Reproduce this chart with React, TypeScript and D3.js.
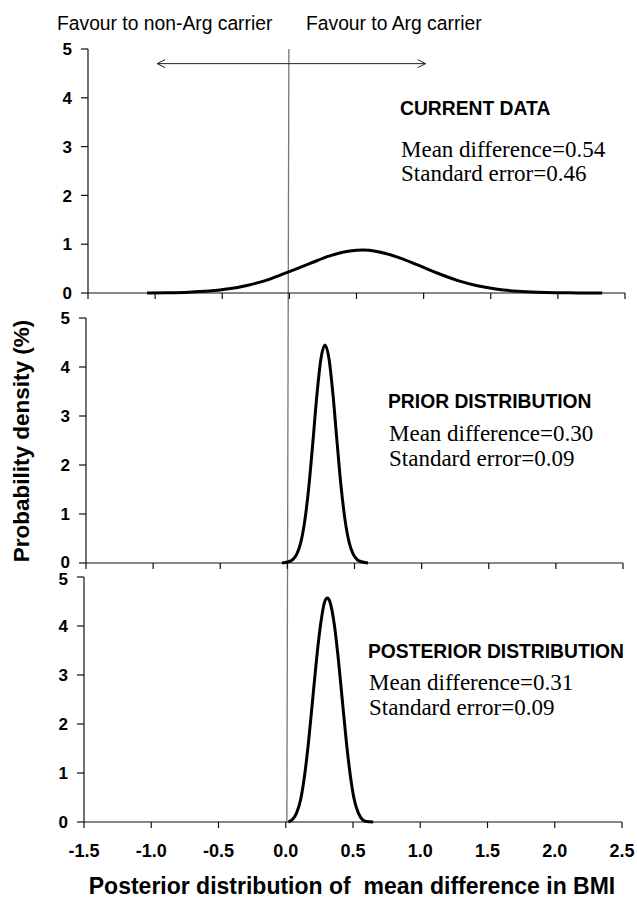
import React from 'react';
import * as d3 from 'd3';

// values
const currentX = [-1.06, -0.9, -0.75, -0.6, -0.45, -0.3, -0.15, 0, 0.15, 0.3, 0.45, 0.55, 0.65, 0.8, 0.95, 1.1, 1.25, 1.4, 1.55, 1.7, 1.85, 2.0, 2.15, 2.33];
const currentY = [0.002, 0.006, 0.017, 0.04, 0.085, 0.165, 0.28, 0.44, 0.6, 0.76, 0.86, 0.88, 0.85, 0.74, 0.58, 0.41, 0.26, 0.15, 0.078, 0.036, 0.015, 0.006, 0.002, 0.0];

const priorX = [-0.04, 0.0, 0.04, 0.07, 0.1, 0.13, 0.16, 0.19, 0.22, 0.25, 0.28, 0.31, 0.34, 0.37, 0.4, 0.43, 0.46, 0.49, 0.52, 0.56, 0.6];
const priorY = [0, 0.02, 0.07, 0.18, 0.42, 0.87, 1.56, 2.47, 3.43, 4.17, 4.45, 4.17, 3.43, 2.47, 1.56, 0.87, 0.42, 0.18, 0.07, 0.02, 0];

const postX = [0.02, 0.05, 0.08, 0.11, 0.14, 0.17, 0.2, 0.23, 0.26, 0.29, 0.31, 0.33, 0.36, 0.39, 0.42, 0.45, 0.48, 0.51, 0.54, 0.57, 0.6, 0.65];
const postY = [0.0, 0.05, 0.18, 0.45, 0.95, 1.65, 2.5, 3.35, 4.05, 4.5, 4.57, 4.48, 4.05, 3.35, 2.5, 1.65, 0.95, 0.45, 0.18, 0.05, 0.01, 0.0];

const xTicks = [-1.5, -1.0, -0.5, 0.0, 0.5, 1.0, 1.5, 2.0, 2.5];
const yTicks = [0, 1, 2, 3, 4, 5];

const panelTitles = ['CURRENT DATA', 'PRIOR DISTRIBUTION', 'POSTERIOR DISTRIBUTION'];
const meanLabels = ['Mean difference=0.54', 'Mean difference=0.30', 'Mean difference=0.31'];
const seLabels = ['Standard error=0.46', 'Standard error=0.09', 'Standard error=0.09'];

const W = 637;
const H = 901;
const sans = '"Liberation Sans", Arial, sans-serif';
const serif = '"Liberation Serif", "Times New Roman", serif';

// panel frames (pixel layout)
const frames = [
  { top: 49, bottom: 293, left: 88, right: 625, tx: 400, ty: 115, my: 157, sy: 181 },
  { top: 318, bottom: 563, left: 86, right: 623, tx: 388, ty: 408, my: 441, sy: 466 },
  { top: 577, bottom: 822, left: 84, right: 622, tx: 368, ty: 658, my: 690, sy: 715 },
];
const series = [
  { xs: currentX, ys: currentY },
  { xs: priorX, ys: priorY },
  { xs: postX, ys: postY },
];

const Panel = ({ i }: { i: number }) => {
  const f = frames[i];
  const x = d3.scaleLinear().domain([-1.5, 2.5]).range([f.left, f.right]);
  const y = d3.scaleLinear().domain([0, 5]).range([f.bottom, f.top]);
  const s = series[i];
  const pts: [number, number][] = s.xs.map((v, k) => [v, s.ys[k]]);
  const line = d3
    .line<[number, number]>()
    .x((d) => x(d[0]))
    .y((d) => y(d[1]))
    .curve(d3.curveMonotoneX);
  const last = i === 2;
  // nudge the labels where two panels meet, as in the original
  const nudge = (t: number) => {
    if (t === 0 && i === 1) return -1.5;
    if (t === 5 && i === 2) return 2;
    return 0;
  };
  return (
    <g>
      {/* y axis */}
      <line x1={f.left} x2={f.left} y1={f.top} y2={f.bottom} stroke="#111" strokeWidth={1.2} />
      {yTicks.map((t) => (
        <g key={t}>
          <line x1={f.left - 7} x2={f.left} y1={y(t)} y2={y(t)} stroke="#111" strokeWidth={1.2} />
          <text x={f.left - 16} y={y(t) + nudge(t)} dy="0.36em" textAnchor="end" fontFamily={sans} fontWeight="bold" fontSize={17}>
            {t}
          </text>
        </g>
      ))}
      {/* x axis */}
      <line x1={f.left} x2={f.right} y1={f.bottom} y2={f.bottom} stroke="#111" strokeWidth={1.2} />
      {xTicks.map((t) => (
        <g key={t}>
          <line x1={x(t)} x2={x(t)} y1={f.bottom} y2={f.bottom + 6} stroke="#111" strokeWidth={1.2} />
          {last && (
            <text x={x(t)} y={857} textAnchor="middle" fontFamily={sans} fontWeight="bold" fontSize={18}>
              {t.toFixed(1)}
            </text>
          )}
        </g>
      ))}
      <path d={line(pts) || ''} fill="none" stroke="#000" strokeWidth={3} strokeLinejoin="round" />
      <text x={f.tx} y={f.ty} fontFamily={sans} fontWeight="bold" fontSize={19.3}>
        {panelTitles[i]}
      </text>
      <text x={f.tx + 1} y={f.my} fontFamily={serif} fontSize={23}>
        {meanLabels[i]}
      </text>
      <text x={f.tx + 1} y={f.sy} fontFamily={serif} fontSize={23}>
        {seLabels[i]}
      </text>
    </g>
  );
};

export default function App() {
  const f0 = frames[0];
  const x0 = d3.scaleLinear().domain([-1.5, 2.5]).range([f0.left, f0.right]);
  const y0 = d3.scaleLinear().domain([0, 5]).range([f0.bottom, f0.top]);
  const fm = frames[1];
  const xm = d3.scaleLinear().domain([-1.5, 2.5]).range([fm.left, fm.right]);
  const arrowY = y0(4.7);

  return (
    <svg width={W} height={H} style={{ position: 'absolute', left: 0, top: 0, background: '#fff' }}>
      <defs>
        <marker id="chev" viewBox="-10 -6 12 12" markerWidth={12} markerHeight={12} refX={0} refY={0} orient="auto-start-reverse" markerUnits="userSpaceOnUse">
          <path d="M-8,-4 L0,0 L-8,4" fill="none" stroke="#222" strokeWidth={1} />
        </marker>
      </defs>
      <rect width={W} height={H} fill="#fff" />
      <text x={57} y={30} fontFamily={sans} fontSize={19.3}>Favour to non-Arg carrier</text>
      <text x={306} y={30} fontFamily={sans} fontSize={19.3}>Favour to Arg carrier</text>

      {/* reference line at zero difference */}
      <line x1={xm(0) + 1.5} x2={xm(0) - 0.5} y1={frames[0].top} y2={frames[2].bottom} stroke="#777" strokeWidth={1.3} />

      <line x1={x0(-1.0) + 2} x2={x0(1.0) + 2} y1={arrowY} y2={arrowY} stroke="#222" strokeWidth={1} markerStart="url(#chev)" markerEnd="url(#chev)" />

      {frames.map((_, i) => (
        <Panel key={i} i={i} />
      ))}

      <text transform={`translate(29,441) rotate(-90)`} textAnchor="middle" fontFamily={sans} fontWeight="bold" fontSize={22.5}>
        Probability density (%)
      </text>
      <text x={352} y={894} textAnchor="middle" fontFamily={sans} fontWeight="bold" fontSize={23} style={{ whiteSpace: 'pre' }}>
        {'Posterior distribution of  mean difference in BMI'}
      </text>
    </svg>
  );
}
